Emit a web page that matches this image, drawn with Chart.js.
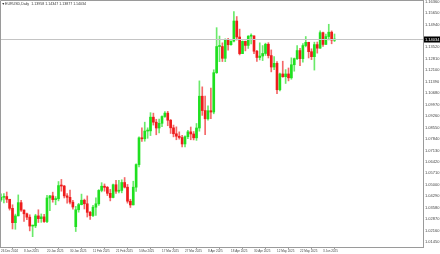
<!DOCTYPE html>
<html><head><meta charset="utf-8">
<script src="https://cdn.jsdelivr.net/npm/chart.js@4/dist/chart.umd.min.js"></script>
<style>html,body{margin:0;padding:0;background:#fff;overflow:hidden}#wrap{width:440px;height:254px}</style>
</head><body><div id="wrap"><canvas id="c" width="440" height="254"></canvas></div>
<script>
const symbolTitle = "EURUSD,Daily  1.13958 1.14347 1.13877 1.14034";
const dates = ["26 Dec 2024","27 Dec","30 Dec","31 Dec","2 Jan","3 Jan","6 Jan","7 Jan","8 Jan 2025","9 Jan","10 Jan","13 Jan","14 Jan","15 Jan","16 Jan","17 Jan","20 Jan 2025","21 Jan","22 Jan","23 Jan","24 Jan","27 Jan","28 Jan","29 Jan","30 Jan 2025","31 Jan","3 Feb","4 Feb","5 Feb","6 Feb","7 Feb","10 Feb","11 Feb 2025","12 Feb","13 Feb","14 Feb","17 Feb","18 Feb","19 Feb","20 Feb","21 Feb 2025","24 Feb","25 Feb","26 Feb","27 Feb","28 Feb","3 Mar","4 Mar","5 Mar 2025","6 Mar","7 Mar","10 Mar","11 Mar","12 Mar","13 Mar","14 Mar","17 Mar 2025","18 Mar","19 Mar","20 Mar","21 Mar","24 Mar","25 Mar","26 Mar","27 Mar 2025","28 Mar","31 Mar","1 Apr","2 Apr","3 Apr","4 Apr","7 Apr","8 Apr 2025","9 Apr","10 Apr","11 Apr","14 Apr","15 Apr","16 Apr","17 Apr","18 Apr 2025","21 Apr","22 Apr","23 Apr","24 Apr","25 Apr","28 Apr","29 Apr","30 Apr 2025","1 May","2 May","5 May","6 May","7 May","8 May","9 May","12 May 2025","13 May","14 May","15 May","16 May","19 May","20 May","21 May","22 May 2025","23 May","26 May","27 May","28 May","29 May","30 May","2 Jun","3 Jun 2025","4 Jun","5 Jun","6 Jun","9 Jun"];
const open  = [1.0406,1.0422,1.0427,1.0410,1.0354,1.0265,1.0307,1.0389,1.0343,1.0320,1.0299,1.0244,1.0245,1.0307,1.0290,1.0301,1.0272,1.0418,1.0431,1.0408,1.0413,1.0495,1.0492,1.0431,1.0422,1.0392,1.0240,1.0345,1.0377,1.0404,1.0382,1.0329,1.0309,1.0361,1.0382,1.0465,1.0491,1.0484,1.0447,1.0421,1.0500,1.0460,1.0465,1.0514,1.0485,1.0398,1.0375,1.0485,1.0625,1.0791,1.0785,1.0833,1.0834,1.0919,1.0888,1.0852,1.0881,1.0923,1.0944,1.0900,1.0853,1.0816,1.0801,1.0793,1.0753,1.0798,1.0828,1.0815,1.0791,1.0852,1.1049,1.0960,1.0909,1.0959,1.0951,1.1195,1.1357,1.1357,1.1284,1.1398,1.1368,1.1391,1.1515,1.1416,1.1313,1.1389,1.1364,1.1421,1.1423,1.1328,1.1289,1.1298,1.1314,1.1371,1.1301,1.1230,1.1253,1.1089,1.1187,1.1170,1.1187,1.1163,1.1244,1.1282,1.1332,1.1282,1.1363,1.1383,1.1325,1.1294,1.1369,1.1347,1.1443,1.1370,1.1419,1.1446,1.13958];
const high  = [1.0444,1.0446,1.0455,1.0410,1.0376,1.0318,1.0437,1.0404,1.0345,1.0325,1.0314,1.0249,1.0317,1.0345,1.0319,1.0316,1.0435,1.0434,1.0454,1.0427,1.0520,1.0533,1.0496,1.0445,1.0467,1.0404,1.0366,1.0385,1.0442,1.0411,1.0431,1.0336,1.0372,1.0419,1.0470,1.0513,1.0505,1.0490,1.0471,1.0504,1.0528,1.0528,1.0531,1.0545,1.0502,1.0410,1.0522,1.0629,1.0797,1.0853,1.0888,1.0853,1.0947,1.0944,1.0906,1.0907,1.0928,1.0954,1.0955,1.0905,1.0870,1.0859,1.0828,1.0806,1.0803,1.0838,1.0858,1.0830,1.0880,1.1144,1.1107,1.1050,1.0990,1.1100,1.1213,1.1474,1.1422,1.1380,1.1405,1.1408,1.1391,1.1573,1.1543,1.1465,1.1392,1.1391,1.1425,1.1436,1.1424,1.1333,1.1380,1.1363,1.1378,1.1381,1.1336,1.1294,1.1263,1.1192,1.1266,1.1214,1.1224,1.1287,1.1286,1.1363,1.1346,1.1375,1.1419,1.1384,1.1343,1.1384,1.1385,1.1454,1.1447,1.1434,1.1495,1.1454,1.14347];
const low   = [1.0396,1.0388,1.0390,1.0343,1.0226,1.0224,1.0307,1.0335,1.0273,1.0283,1.0214,1.0178,1.0234,1.0266,1.0267,1.0266,1.0265,1.0340,1.0392,1.0376,1.0400,1.0460,1.0418,1.0386,1.0381,1.0348,1.0210,1.0330,1.0375,1.0350,1.0300,1.0285,1.0302,1.0310,1.0372,1.0456,1.0460,1.0433,1.0400,1.0419,1.0446,1.0450,1.0450,1.0480,1.0386,1.0359,1.0375,1.0458,1.0610,1.0768,1.0770,1.0788,1.0805,1.0870,1.0810,1.0822,1.0860,1.0917,1.0866,1.0818,1.0797,1.0779,1.0783,1.0735,1.0734,1.0786,1.0779,1.0778,1.0775,1.0832,1.0930,1.0810,1.0901,1.0910,1.0940,1.1190,1.1263,1.1264,1.1263,1.1335,1.1365,1.1385,1.1397,1.1305,1.1313,1.1330,1.1345,1.1373,1.1313,1.1265,1.1274,1.1270,1.1302,1.1286,1.1200,1.1213,1.1065,1.1082,1.1166,1.1128,1.1144,1.1154,1.1204,1.1276,1.1239,1.1260,1.1355,1.1286,1.1276,1.1211,1.1316,1.1345,1.1357,1.1370,1.1398,1.1374,1.13877];
const close = [1.0422,1.0427,1.0410,1.0354,1.0265,1.0307,1.0389,1.0343,1.0320,1.0299,1.0244,1.0245,1.0307,1.0290,1.0301,1.0272,1.0418,1.0431,1.0408,1.0413,1.0495,1.0492,1.0431,1.0422,1.0392,1.0362,1.0345,1.0377,1.0404,1.0382,1.0329,1.0309,1.0361,1.0382,1.0465,1.0491,1.0484,1.0447,1.0421,1.0500,1.0460,1.0465,1.0514,1.0485,1.0398,1.0375,1.0485,1.0625,1.0791,1.0785,1.0833,1.0834,1.0919,1.0888,1.0852,1.0881,1.0923,1.0944,1.0900,1.0853,1.0816,1.0801,1.0793,1.0753,1.0798,1.0828,1.0815,1.0791,1.0852,1.1049,1.0960,1.0909,1.0959,1.0951,1.1195,1.1357,1.1357,1.1284,1.1398,1.1368,1.1391,1.1515,1.1416,1.1313,1.1389,1.1364,1.1421,1.1423,1.1328,1.1289,1.1298,1.1314,1.1371,1.1301,1.1230,1.1253,1.1089,1.1187,1.1170,1.1187,1.1163,1.1244,1.1282,1.1332,1.1282,1.1363,1.1383,1.1325,1.1294,1.1369,1.1347,1.1443,1.1370,1.1419,1.1446,1.1397,1.14034];
const priceTicks = [1.16360,1.15650,1.14940,1.14230,1.13520,1.12810,1.12100,1.11390,1.10680,1.09970,1.09260,1.08550,1.07840,1.07130,1.06420,1.05710,1.05000,1.04290,1.03580,1.02870,1.02160,1.01450];
const dateTickIdx = [0,8,16,24,32,40,48,56,64,72,80,88,96,104,112];

const UP = '#1fe01f', DOWN = '#ee1c1c';
const n = open.length;
const cols = open.map((o,i)=> close[i] >= o ? UP : DOWN);
const wickData = open.map((o,i)=>({x:i, y:[low[i], high[i]]}));
const bodyData = open.map((o,i)=>({x:i, y:[Math.min(o,close[i]), Math.max(o,close[i])]}));
const lastClose = close[n-1];
const FONT = '"Liberation Sans", Arial, sans-serif';

const framePlugin = {
  id:'frame',
  afterDraw(chart){
    const {ctx, chartArea:a} = chart;
    const ys = chart.scales.y;
    ctx.save();
    const py = Math.round(ys.getPixelForValue(lastClose)) + 0.5;
    ctx.strokeStyle = '#c4c4c4'; ctx.lineWidth = 1;
    ctx.beginPath(); ctx.moveTo(a.left, py); ctx.lineTo(a.right, py); ctx.stroke();
    ctx.fillStyle = '#000';
    ctx.fillRect(a.right+1, py-3, 17, 6);
    ctx.fillStyle = '#fff'; ctx.font = '4px ' + FONT;
    ctx.textBaseline = 'middle'; ctx.textAlign = 'left';
    ctx.fillText(lastClose.toFixed(5), a.right+2, py);
    ctx.strokeStyle = '#9a9a9a';
    ctx.beginPath(); ctx.moveTo(a.left+0.5, a.bottom); ctx.lineTo(a.left+0.5, a.top+0.5); ctx.lineTo(a.right, a.top+0.5); ctx.stroke();
    ctx.fillStyle = '#333'; ctx.font = '3.6px ' + FONT; ctx.textBaseline='middle';
    ctx.fillText('\u25BC', 1.5, 4);
    ctx.fillText(symbolTitle, 5, 4);
    ctx.restore();
  }
};

new Chart(document.getElementById('c'), {
  type:'bar',
  data:{datasets:[
    {data:wickData, backgroundColor:cols.map(c=>c+'aa'), barThickness:1, grouped:false, order:2, minBarLength:1},
    {data:bodyData, backgroundColor:cols, barThickness:2, grouped:false, order:1, minBarLength:1}
  ]},
  options:{
    responsive:false, animation:false, devicePixelRatio:1,
    layout:{padding:0},
    plugins:{legend:{display:false}, tooltip:{enabled:false}},
    scales:{
      x:{type:'linear', min:-0.35, max:146.78, offset:false,
         grid:{drawOnChartArea:false, drawTicks:true, tickLength:2, color:'#9a9a9a'},
         border:{display:true, color:'#9a9a9a'},
         afterBuildTicks(s){ s.ticks = dateTickIdx.map(v=>({value:v})); },
         afterFit(s){ s.height = 7; s.paddingLeft = 0; s.paddingRight = 0; },
         ticks:{autoSkip:false, maxRotation:0, align:'start', padding:0, color:'#444', font:{size:3, family:FONT},
                callback:(v)=> dates[v] || ''}
      },
      y:{position:'right', min:1.01141, max:1.16455,
         grid:{display:false, drawTicks:false, tickLength:0},
         border:{display:true, color:'#9a9a9a'},
         afterBuildTicks(s){ s.ticks = priceTicks.map(v=>({value:v})); },
         afterFit(s){ s.width = 17; s.paddingTop = 0; s.paddingBottom = 0; },
         ticks:{autoSkip:false, padding:2, color:'#444', font:{size:4, family:FONT},
                callback:(v)=> Math.abs(v-lastClose) < 0.003 ? '' : v.toFixed(5)}
      }
    }
  },
  plugins:[framePlugin]
});
</script></body></html>
